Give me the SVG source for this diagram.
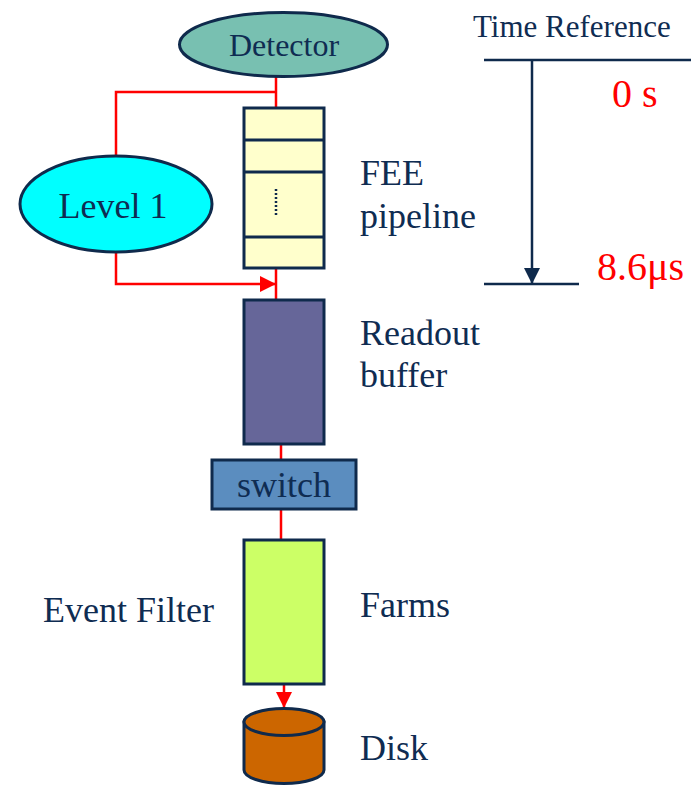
<svg xmlns="http://www.w3.org/2000/svg" width="691" height="785" viewBox="0 0 691 785">
<style>
text{font-family:'Liberation Serif','Tinos','Times New Roman','Nimbus Roman','FreeSerif','DejaVu Serif',serif}
.t{fill:#0f2c52;font-size:36px}
.r{fill:#ff0000;font-size:40px}
.s{stroke:#0f2a4c;stroke-width:3}
.red{stroke:#ff0000;stroke-width:2.5;fill:none}
.nav{stroke:#0f2a4c;stroke-width:2.5;fill:none}
</style>
<defs>
<marker id="ar" markerUnits="userSpaceOnUse" markerWidth="16" markerHeight="16" viewBox="0 0 16 16" refX="16" refY="8" orient="auto"><path d="M0,0 L16,8 L0,16 Z" fill="#ff0000"/></marker>
<marker id="an" markerUnits="userSpaceOnUse" markerWidth="16" markerHeight="16" viewBox="0 0 16 16" refX="16" refY="8" orient="auto"><path d="M0,0 L16,8 L0,16 Z" fill="#0f2a4c"/></marker>
</defs>
<rect width="691" height="785" fill="#ffffff"/>
<g id="connectors">
<path class="red" d="M276,77 V108"/>
<path class="red" d="M276,92 H116 V156"/>
<path class="red" d="M116,252 V284 H276" marker-end="url(#ar)"/>
<path class="red" d="M276,268 V300"/>
<path class="red" d="M281,444 V460"/>
<path class="red" d="M281,509 V540"/>
<path class="red" d="M284,684 V708" marker-end="url(#ar)"/>
</g>
<g id="detector">
<ellipse class="s" cx="283.5" cy="44.5" rx="104" ry="32" fill="#78c0b1"/>
<text class="t" x="284" y="56" text-anchor="middle" style="font-size:32px">Detector</text>
</g>
<g id="level1">
<ellipse class="s" cx="116" cy="204" rx="96" ry="48" fill="#00ffff"/>
<text class="t" x="113" y="218" text-anchor="middle">Level 1</text>
</g>
<g id="fee">
<rect class="s" x="244" y="108" width="80" height="160" fill="#ffffcc"/>
<path class="s" d="M244,140 H324 M244,172 H324 M244,237 H324"/>
<path d="M276,189 V217" stroke="#0f2a4c" stroke-width="2.5" stroke-dasharray="2,2"/>
<text class="t" x="360" y="185">FEE</text>
<text class="t" x="360" y="228">pipeline</text>
</g>
<g id="readout">
<rect class="s" x="244" y="300" width="80" height="144" fill="#666699"/>
<text class="t" x="360" y="345">Readout</text>
<text class="t" x="360" y="387">buffer</text>
</g>
<g id="switch">
<rect class="s" x="212" y="460" width="144" height="49" fill="#5b8dbf"/>
<text class="t" x="284" y="497" text-anchor="middle">switch</text>
</g>
<g id="farms">
<rect class="s" x="244" y="540" width="80" height="144" fill="#ccff66"/>
<text class="t" x="360" y="617">Farms</text>
<text class="t" x="43" y="622">Event Filter</text>
</g>
<g id="disk">
<path class="s" d="M244,722 V770 A40,13.5 0 0 0 324,770 V722 Z" fill="#cc6600"/>
<ellipse class="s" cx="284" cy="722" rx="40" ry="13.5" fill="#cc6600"/>
<text class="t" x="360" y="760">Disk</text>
</g>
<g id="timeref">
<text class="t" x="473" y="37" style="font-size:31px">Time Reference</text>
<path class="nav" d="M484,60 H691 M484,284 H579"/>
<path class="nav" d="M532,60 V284" marker-end="url(#an)"/>
<text class="r" x="612" y="107">0 s</text>
<text class="r" x="597" y="280">8.6μs</text>
</g>
</svg>
